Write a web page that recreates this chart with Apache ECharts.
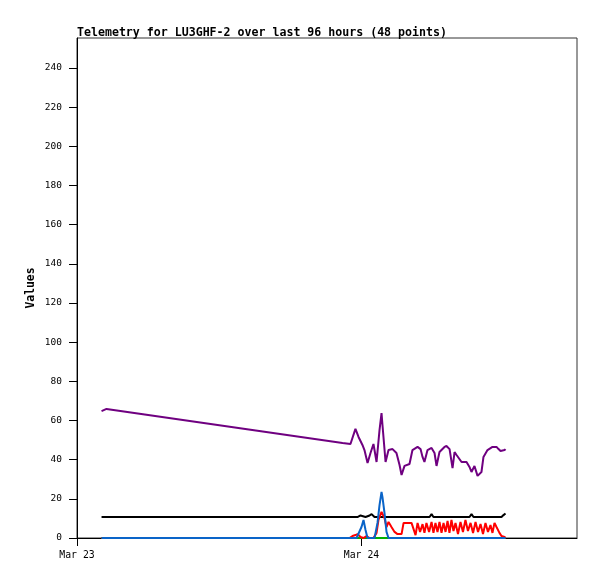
<!DOCTYPE html>
<html>
<head>
<meta charset="utf-8">
<script src="https://cdn.jsdelivr.net/npm/echarts@6/dist/echarts.min.js"></script>
<style>
html,body{margin:0;padding:0;background:#fff;}
#chart{width:597px;height:579px;}
</style>
</head>
<body>
<div id="chart"></div>
<script>
// Time in hours since Mar 23 00:00
var titleText = 'Telemetry for LU3GHF-2 over last 96 hours (48 points)';
var yAxisName = 'Values';
var xTickHours = [0, 24];
var xTickLabels = ['Mar 23', 'Mar 24'];
var yTicks = [0, 20, 40, 60, 80, 100, 120, 140, 160, 180, 200, 220, 240];

var purpleTimes = [2.07, 2.49, 22.40, 23.07, 23.49, 23.75, 24.08, 24.25, 24.51, 24.76, 25.01, 25.27, 25.52, 25.69, 25.77, 26.03, 26.28, 26.62, 26.95, 27.21, 27.38, 27.63, 28.05, 28.30, 28.73, 28.98, 29.15, 29.31, 29.57, 29.91, 30.16, 30.33, 30.58, 31.00, 31.17, 31.43, 31.68, 31.85, 32.02, 32.44, 32.86, 33.11, 33.28, 33.53, 33.79, 34.12, 34.29, 34.63, 35.05, 35.39, 35.56, 35.73, 36.07, 36.15];
var purpleValues = [64.8, 65.9, 48.5, 48.0, 55.7, 51.6, 47.5, 44.9, 38.3, 43.4, 48.0, 38.8, 55.1, 63.8, 57.7, 38.8, 44.9, 45.4, 43.4, 37.3, 32.2, 36.8, 37.8, 44.9, 46.5, 45.4, 41.4, 38.8, 44.9, 46.0, 43.4, 36.8, 43.9, 46.5, 47.0, 45.4, 35.7, 43.9, 42.4, 38.8, 38.8, 36.3, 33.7, 36.8, 31.7, 33.7, 41.4, 44.9, 46.5, 46.5, 45.4, 44.4, 44.9, 45.4];

var blackTimes = [2.07, 23.66, 23.92, 24.08, 24.34, 24.68, 24.85, 25.10, 29.74, 29.91, 30.07, 33.11, 33.28, 33.45, 35.81, 35.98, 36.15];
var blackValues = [10.7, 10.7, 11.5, 12.2, 10.7, 11.5, 12.2, 10.7, 10.7, 12.2, 10.7, 10.7, 12.2, 10.7, 10.7, 11.7, 12.5];

var greenTimes = [2.07, 36.15];
var greenValues = [0, 0];

var blueTimes = [2.07, 23.58, 24.0, 24.17, 24.34, 24.51, 25.10, 25.35, 25.52, 25.69, 25.77, 25.94, 26.11, 26.28, 36.15];
var blueValues = [0, 0, 5.6, 9.2, 4.1, 0, 0, 7.7, 16.8, 23.5, 20.9, 12.8, 3.1, 0, 0];

var redTimes = [2.07, 22.99, 23.24, 23.49, 23.66, 23.92, 24.17, 24.42, 24.68, 25.01, 25.27, 25.43, 25.69, 25.77, 25.94, 26.11, 26.28, 26.53, 26.79, 27.04, 27.38, 27.55, 27.88, 28.22, 28.56, 28.73, 28.94, 29.15, 29.31, 29.48, 29.70, 29.91, 30.07, 30.24, 30.41, 30.58, 30.75, 30.92, 31.09, 31.26, 31.42, 31.59, 31.76, 31.93, 32.14, 32.35, 32.56, 32.77, 32.98, 33.20, 33.41, 33.62, 33.83, 34.04, 34.25, 34.46, 34.67, 34.88, 35.05, 35.22, 35.39, 35.64, 35.81, 36.07, 36.15];
var redValues = [0, 0, 1.0, 1.5, 2.0, 0.5, 0, 1.0, 0, 0, 2.6, 9.2, 13.3, 14.3, 10.2, 5.6, 8.2, 5.6, 3.1, 2.0, 2.0, 7.7, 7.7, 7.7, 1.5, 7.7, 3.1, 7.1, 2.6, 7.7, 3.1, 8.2, 2.6, 7.7, 3.1, 8.2, 2.6, 7.7, 3.1, 8.7, 2.6, 9.2, 3.6, 7.7, 2.0, 8.2, 3.1, 9.2, 3.6, 7.7, 2.6, 8.2, 3.1, 7.1, 2.0, 7.7, 3.1, 6.6, 2.6, 7.7, 5.6, 2.6, 1.0, 0.5, 0];

function pairs(t, v) { return t.map(function (x, i) { return [x, v[i]]; }); }

var mono = 'DejaVu Sans Mono';
function line(name, t, v, color, z) {
  return {
    name: name, type: 'line', data: pairs(t, v), showSymbol: false, symbol: 'none',
    lineStyle: { color: color, width: 2 }, itemStyle: { color: color }, z: z, animation: false
  };
}

var chart = echarts.init(document.getElementById('chart'), null, { renderer: 'canvas' });
chart.setOption({
  animation: false,
  backgroundColor: '#fff',
  title: {
    text: titleText, left: 72, top: 22,
    textStyle: { fontFamily: mono, fontWeight: 'bold', fontSize: 11.6, color: '#000' }
  },
  grid: { left: 77, right: 20, top: 38, bottom: 41, show: true, borderColor: '#333', borderWidth: 1, backgroundColor: '#fff' },
  xAxis: {
    type: 'value', min: 0, max: 42.18, interval: 24,
    axisLine: { show: true, lineStyle: { color: '#000', width: 1 } },
    axisTick: { show: true, length: 8, inside: false, customValues: xTickHours, lineStyle: { color: '#000' } },
    axisLabel: {
      customValues: xTickHours, margin: 12, fontFamily: mono, fontSize: 9.8, color: '#000',
      formatter: function (val) { var i = xTickHours.indexOf(val); return i >= 0 ? xTickLabels[i] : ''; }
    },
    splitLine: { show: false }
  },
  yAxis: {
    type: 'value', min: 0, max: 255.3, interval: 20,
    name: yAxisName, nameLocation: 'middle', nameGap: 40, nameRotate: 90, nameMoveOverlap: false,
    nameTextStyle: { fontFamily: mono, fontWeight: 'bold', fontSize: 11.4, color: '#000' },
    axisLine: { show: true, lineStyle: { color: '#000', width: 1 } },
    axisTick: { show: true, length: 8, inside: false, customValues: yTicks, lineStyle: { color: '#000' } },
    axisLabel: { customValues: yTicks, margin: 15, fontFamily: mono, fontSize: 9.5, color: '#000' },
    splitLine: { show: false }
  },
  series: [
    line('black', blackTimes, blackValues, '#000000', 2),
    line('purple', purpleTimes, purpleValues, '#6f0080', 3),
    line('green', greenTimes, greenValues, '#00b000', 4),
    line('red', redTimes, redValues, '#ff0000', 5),
    line('blue', blueTimes, blueValues, '#0a64c8', 6)
  ]
});
</script>
</body>
</html>
